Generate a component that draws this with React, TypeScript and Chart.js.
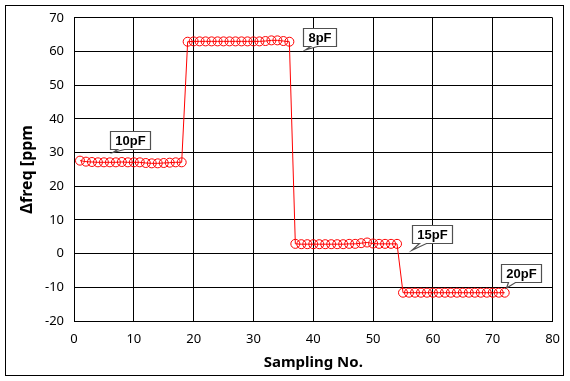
import React, { useEffect, useRef } from "react";
import { Chart, registerables } from "chart.js";

Chart.register(...registerables);

const samples10pF = [27.6, 27.3, 27.2, 27.1, 27.1, 27.1, 27.1, 27.2, 27.1, 27.1, 27.1, 26.9, 26.8, 26.8, 26.9, 27.0, 27.1, 27.1];
const samples8pF = [62.9, 63.0, 63.0, 63.0, 63.0, 63.0, 63.0, 63.0, 63.0, 63.0, 63.0, 63.0, 63.0, 63.1, 63.3, 63.3, 63.1, 62.9];
const samples15pF = [2.9, 2.8, 2.8, 2.8, 2.8, 2.8, 2.8, 2.8, 2.8, 2.9, 2.9, 3.1, 3.3, 3.0, 2.9, 2.9, 2.9, 2.9];
const samples20pF = [-11.6, -11.6, -11.6, -11.6, -11.6, -11.6, -11.6, -11.6, -11.6, -11.6, -11.6, -11.6, -11.6, -11.6, -11.6, -11.6, -11.6, -11.6];

const yValues = [...samples10pF, ...samples8pF, ...samples15pF, ...samples20pF];
const xValues = yValues.map((_, i) => i + 1);

const calloutLabels = ["10pF", "8pF", "15pF", "20pF"];
// box top-left and pointer tip, in data units
const calloutBoxX = [6.0, 38.3, 56.5, 71.3];
const calloutBoxY = [36.5, 67.0, 8.4, -3.1];
const calloutTipX = [6.5, 38.7, 56.5, 72.3];
const calloutTipY = [30.0, 60.5, 1.0, -10.2];

const xTitle = "Sampling No.";
const yTitle = "Δfreq [ppm";

const calloutPlugin = {
  id: "callouts",
  afterDatasetsDraw(chart: any) {
    const { ctx, scales } = chart;
    const xs = scales.x;
    const ys = scales.y;
    ctx.save();
    ctx.font = "bold 13px 'Liberation Sans', Arial, sans-serif";
    calloutLabels.forEach((label, i) => {
      const bx = Math.round(xs.getPixelForValue(calloutBoxX[i])) + 0.5;
      const by = Math.round(ys.getPixelForValue(calloutBoxY[i])) + 0.5;
      const tx = xs.getPixelForValue(calloutTipX[i]);
      const ty = ys.getPixelForValue(calloutTipY[i]);
      const w = Math.round(ctx.measureText(label).width + 10);
      const h = 18;
      ctx.beginPath();
      ctx.moveTo(bx, by);
      ctx.lineTo(bx + w, by);
      ctx.lineTo(bx + w, by + h);
      ctx.lineTo(bx + 14, by + h);
      ctx.lineTo(tx, ty);
      ctx.lineTo(bx + 7, by + h);
      ctx.lineTo(bx, by + h);
      ctx.closePath();
      ctx.fillStyle = "#ffffff";
      ctx.fill();
      ctx.strokeStyle = "#505050";
      ctx.lineWidth = 1.2;
      ctx.stroke();
      ctx.fillStyle = "#000000";
      ctx.textAlign = "center";
      ctx.textBaseline = "middle";
      ctx.fillText(label, bx + w / 2, by + h / 2 + 1);
    });
    ctx.restore();
  },
};

const borderPlugin = {
  id: "outerBorder",
  afterDraw(chart: any) {
    const { ctx } = chart;
    ctx.save();
    ctx.strokeStyle = "#000";
    ctx.lineWidth = 1;
    ctx.strokeRect(5.5, 5.5, 558, 370);
    ctx.restore();
  },
};

export default function App() {
  const canvasRef = useRef<HTMLCanvasElement>(null);

  useEffect(() => {
    document.body.style.margin = "0";
    const canvas = canvasRef.current;
    if (!canvas) return;
    const chart = new Chart(canvas, {
      type: "line",
      data: {
        datasets: [
          {
            data: xValues.map((x, i) => ({ x, y: yValues[i] })),
            borderColor: "#ff0000",
            borderWidth: 1,
            pointRadius: 4.5,
            pointBorderColor: "#ff0000",
            pointBackgroundColor: "rgba(0,0,0,0)",
            pointBorderWidth: 1,
            tension: 0,
          },
        ],
      },
      options: {
        animation: false,
        responsive: false,
        maintainAspectRatio: false,
        layout: { padding: { left: 0, right: 16, top: 17, bottom: 0 } },
        plugins: {
          legend: { display: false },
          tooltip: { enabled: false },
        },
        scales: {
          x: {
            type: "linear",
            min: 0,
            max: 80,
            ticks: {
              stepSize: 10,
              color: "#000",
              padding: 10,
              font: { family: "'Noto Sans', sans-serif", size: 13 },
            },
            grid: { color: "#000", lineWidth: 1, drawTicks: false },
            border: { color: "#000", width: 1 },
            title: {
              display: true,
              text: xTitle,
              color: "#000",
              font: { family: "'Noto Sans', sans-serif", size: 15, weight: "bold" },
              padding: { top: 0, bottom: 9 },
            },
            afterFit(scale: any) {
              scale.height = 60;
            },
          },
          y: {
            min: -20,
            max: 70,
            ticks: {
              stepSize: 10,
              color: "#000",
              padding: 10,
              font: { family: "'Noto Sans', sans-serif", size: 13 },
            },
            grid: { color: "#000", lineWidth: 1, drawTicks: false },
            border: { color: "#000", width: 1 },
            title: {
              display: true,
              text: yTitle,
              color: "#000",
              font: { family: "'Noto Sans', sans-serif", size: 16, weight: "bold" },
              padding: { top: 18, bottom: 0 },
            },
            afterFit(scale: any) {
              scale.width = 74;
            },
          },
        },
      } as any,
      plugins: [calloutPlugin, borderPlugin],
    });
    return () => chart.destroy();
  }, []);

  return (
    <div style={{ width: 570, height: 381 }}>
      <canvas ref={canvasRef} width={570} height={381} style={{ display: "block" }} />
    </div>
  );
}
